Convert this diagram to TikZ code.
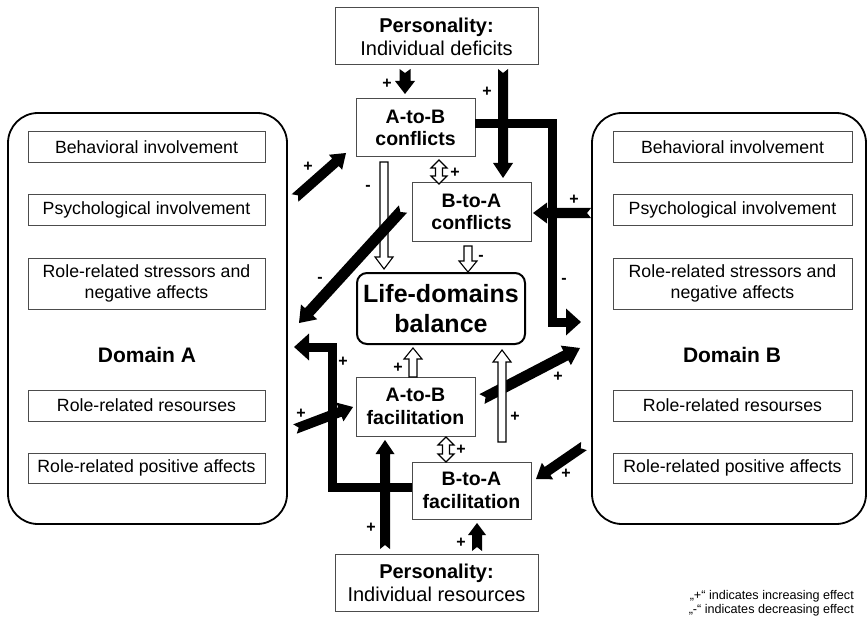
\documentclass[tikz,border=0pt]{standalone}
\usepackage{fontspec}
\setmainfont{Liberation Sans}
\usetikzlibrary{calc,arrows.meta}
% #1 style, #2 from, #3 to, #4 half shaft, #5 half head, #6 head length, #7 notch depth
\newcommand\blkarrow[7]{%
  \coordinate (hb) at ($(#3)!#6pt!(#2)$);
  \path[#1] ($(#2)!#4pt!90:(#3)$) -- ($(hb)!#4pt!90:(#3)$) -- ($(hb)!#5pt!90:(#3)$) -- (#3)
    -- ($(hb)!#5pt!-90:(#3)$) -- ($(hb)!#4pt!-90:(#3)$) -- ($(#2)!#4pt!-90:(#3)$)
    -- ($(#2)!#7pt!(#3)$) -- cycle;}
% double-headed hollow arrow: #1 style, #2 end1, #3 end2, #4 half shaft, #5 half head, #6 head length
\newcommand\dblarrow[6]{%
  \coordinate (ha) at ($(#2)!#6pt!(#3)$);
  \coordinate (hc) at ($(#3)!#6pt!(#2)$);
  \path[#1] (#2) -- ($(ha)!#5pt!90:(#3)$) -- ($(ha)!#4pt!90:(#3)$) -- ($(hc)!#4pt!90:(#3)$)
    -- ($(hc)!#5pt!90:(#3)$) -- (#3) -- ($(hc)!#5pt!-90:(#3)$) -- ($(hc)!#4pt!-90:(#3)$)
    -- ($(ha)!#4pt!-90:(#3)$) -- ($(ha)!#5pt!-90:(#3)$) -- cycle;}
\begin{document}
\begin{tikzpicture}[x=1pt,y=-1pt,
  container/.style={draw=black, line width=1.8pt, rounded corners=30pt, inner sep=0pt},
  ibox/.style={draw=gray!60!black, line width=1pt, minimum width=237pt, inner sep=0pt, align=center,
     font=\fontsize{17.7}{21}\selectfont},
  cbox/.style={draw=gray!60!black, line width=1pt, minimum width=119pt, minimum height=58pt, inner sep=0pt,
     align=center, font=\bfseries\fontsize{19.5}{22.5}\selectfont},
  pbox/.style={draw=gray!60!black, line width=1pt, minimum width=203pt, minimum height=57pt, inner sep=0pt,
     align=center, font=\fontsize{20}{23}\selectfont},
  balbox/.style={draw=black, line width=2pt, rounded corners=10pt, minimum width=168pt, minimum height=71pt,
     inner sep=0pt, align=center, font=\bfseries\fontsize{25}{30}\selectfont},
  domtext/.style={font=\bfseries\fontsize{21}{24}\selectfont, inner sep=0pt},
  sign/.style={font=\bfseries\fontsize{16}{16}\selectfont, inner sep=0pt},
  solidarrow/.style={fill=black},
  hollowarrow/.style={fill=white, draw=black, line width=1.1pt, line join=miter},
  elbow/.style={draw=black, line width=9pt, line join=miter, -{Triangle[length=15pt,width=26pt]}}
]
\useasboundingbox (0,0) rectangle (868,623);

% containers
\node[container, minimum width=279pt, minimum height=411pt] (domA) at (147.5,318.5) {};
\node[container, minimum width=274pt, minimum height=411pt] (domB) at (729,318.5) {};

% Domain A boxes
\node[ibox, minimum height=31pt] (a1) at (146.5,147.5) {Behavioral involvement};
\node[ibox, minimum height=30pt] (a2) at (146.5,210) {Psychological involvement};
\node[ibox, minimum height=51pt] (a3) at (146.5,283.5) {Role-related stressors and\\negative affects};
\node[domtext] (dA) at (147,355) {Domain A};
\node[ibox, minimum height=31pt] (a4) at (146.5,405.5) {Role-related resourses};
\node[ibox, minimum height=30pt] (a5) at (146.5,468) {Role-related positive affects};

% Domain B boxes
\node[ibox, minimum width=239pt, minimum height=31pt] (b1) at (732.5,147.5) {Behavioral involvement};
\node[ibox, minimum width=239pt, minimum height=30pt] (b2) at (732.5,210) {Psychological involvement};
\node[ibox, minimum width=239pt, minimum height=51pt] (b3) at (732.5,283.5) {Role-related stressors and\\negative affects};
\node[domtext] (dB) at (732,355) {Domain B};
\node[ibox, minimum width=239pt, minimum height=31pt] (b4) at (732.5,405.5) {Role-related resourses};
\node[ibox, minimum width=239pt, minimum height=30pt] (b5) at (732.5,468) {Role-related positive affects};

% central boxes
\node[pbox] (def) at (436.5,36.5) {\textbf{Personality:}\\Individual deficits};
\node[cbox] (c1) at (415.5,128) {A-to-B\\conflicts};
\node[cbox] (c2) at (471.5,212) {B-to-A\\conflicts};
\node[balbox] (bal) at (441,308.5) {Life-domains\\balance};
\node[cbox, minimum height=59pt] (f1) at (415.5,406.5) {A-to-B\\facilitation};
\node[cbox, minimum height=57pt] (f2) at (471.5,490.5) {B-to-A\\facilitation};
\node[pbox] (res) at (436.5,582.5) {\textbf{Personality:}\\Individual resources};

% arrow end points
\coordinate (p1s) at (405,69);  \coordinate (p1e) at (405,94);
\coordinate (p2s) at (503,69);  \coordinate (p2e) at (503,178);
\coordinate (e3a) at (475,123.5); \coordinate (e3b) at (552,123.5);
\coordinate (e3c) at (552,322); \coordinate (e3d) at (581,322);
\coordinate (p4s) at (591,213); \coordinate (p4e) at (533,213);
\coordinate (p5s) at (295,198); \coordinate (p5e) at (346,153);
\coordinate (p6s) at (403,209); \coordinate (p6e) at (299,323);
\coordinate (h7s) at (384,162); \coordinate (h7e) at (384,269);
\coordinate (d8s) at (439,160); \coordinate (d8e) at (439,184);
\coordinate (h9s) at (468,246); \coordinate (h9e) at (468,272);
\coordinate (h10s) at (413,377); \coordinate (h10e) at (413,348);
\coordinate (h11s) at (502,442); \coordinate (h11e) at (502,350);
\coordinate (d12s) at (446,437); \coordinate (d12e) at (446,462);
\coordinate (p13s) at (295,429); \coordinate (p13e) at (353,407);
\coordinate (p14s) at (482,399); \coordinate (p14e) at (580,348);
\coordinate (p15s) at (584,446); \coordinate (p15e) at (536,479);
\coordinate (e16a) at (412,487); \coordinate (e16b) at (332,487);
\coordinate (e16c) at (332,347); \coordinate (e16d) at (294,347);
\coordinate (p17s) at (385,549); \coordinate (p17e) at (385,440);
\coordinate (p18s) at (477,551); \coordinate (p18e) at (477,523);

% arrows
\blkarrow{solidarrow}{p1s}{p1e}{5.5}{10}{13}{4}
\blkarrow{solidarrow}{p4s}{p4e}{5}{10.5}{14}{4}
\draw[elbow] (e3a) -- (e3b) -- (e3c) -- (e3d);
\blkarrow{solidarrow}{p2s}{p2e}{5}{10}{15}{4}
\blkarrow{solidarrow}{p5s}{p5e}{5}{10}{14}{4}
\blkarrow{hollowarrow}{h7s}{h7e}{4}{9}{12}{0}
\blkarrow{solidarrow}{p6s}{p6e}{5.5}{11}{15}{4}
\dblarrow{hollowarrow}{d8s}{d8e}{3.5}{8}{8}
\blkarrow{hollowarrow}{h9s}{h9e}{4}{9}{11}{0}
\blkarrow{hollowarrow}{h10s}{h10e}{4}{9}{11}{0}
\blkarrow{solidarrow}{p14s}{p14e}{5.5}{11}{16}{4}
\blkarrow{hollowarrow}{h11s}{h11e}{4}{9}{12}{0}
\dblarrow{hollowarrow}{d12s}{d12e}{3.5}{8}{8}
\draw[elbow] (e16a) -- (e16b) -- (e16c) -- (e16d);
\blkarrow{solidarrow}{p13s}{p13e}{5}{10}{14}{4}
\blkarrow{solidarrow}{p15s}{p15e}{5}{10}{14}{4}
\blkarrow{solidarrow}{p17s}{p17e}{5}{9.5}{14}{4}
\blkarrow{solidarrow}{p18s}{p18e}{5}{9}{12}{4}

% signs
\node[sign] (l1) at (387,84) {+};
\node[sign] (l2) at (487,92) {+};
\node[sign] (l3) at (564,281) {-};
\node[sign] (l4) at (574,200) {+};
\node[sign] (l5) at (308,167) {+};
\node[sign] (l6) at (320,280) {-};
\node[sign] (l7) at (368,188) {-};
\node[sign] (l8) at (455,173) {+};
\node[sign] (l9) at (481,258) {-};
\node[sign] (l10) at (398,368) {+};
\node[sign] (l11) at (515,417) {+};
\node[sign] (l12) at (461,450) {+};
\node[sign] (l13) at (301,414) {+};
\node[sign] (l14) at (558,377) {+};
\node[sign] (l15) at (566,474) {+};
\node[sign] (l16) at (343,362) {+};
\node[sign] (l17) at (371,528) {+};
\node[sign] (l18) at (461,543) {+};

% legend
\node[anchor=east, align=right, inner sep=0pt, font=\fontsize{12.6}{14.5}\selectfont] (leg) at (854,603)
  {„+“ indicates increasing effect\\„-“ indicates decreasing effect};
\end{tikzpicture}
\end{document}
